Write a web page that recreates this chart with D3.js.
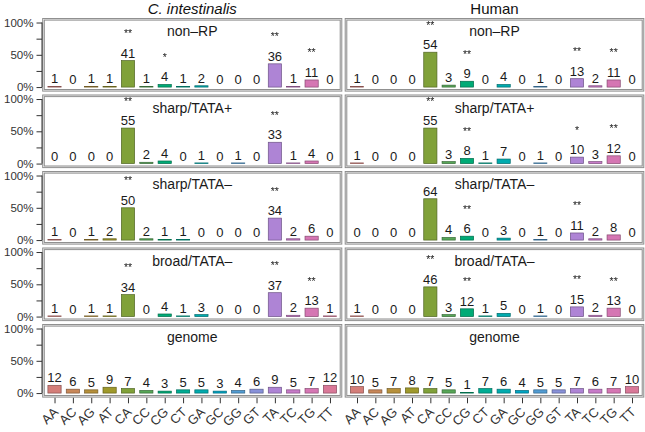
<!DOCTYPE html>
<html><head><meta charset="utf-8">
<script src="https://cdn.jsdelivr.net/npm/d3@7"></script>
<style>body{margin:0;background:#fff}svg{display:block}text{font-family:"Liberation Sans",Arial,Helvetica,sans-serif}.sigs{filter:grayscale(100%)}</style>
</head><body><svg id="c" width="645" height="432"></svg>
<script>
const dinucleotides = ["AA","AC","AG","AT","CA","CC","CG","CT","GA","GC","GG","GT","TA","TC","TG","TT"];
const species = ["C. intestinalis","Human"];
const groups = ["non–RP","sharp/TATA+","sharp/TATA–","broad/TATA–","genome"];
const yTicks = [0,25,50,75,100];
const yTickLabels = ["0%","","50%","","100%"];

// C. intestinalis (percent)
const ciNonRP   = [1,0,1,1,41,1,4,1,2,0,0,0,36,1,11,0];
const ciSharpTp = [0,0,0,0,55,2,4,0,1,0,1,0,33,1,4,0];
const ciSharpTm = [1,0,1,2,50,2,1,1,0,0,0,0,34,2,6,0];
const ciBroadTm = [1,0,1,1,34,0,4,1,3,0,0,0,37,2,13,1];
const ciGenome  = [12,6,5,9,7,4,3,5,5,3,4,6,9,5,7,12];
// Human (percent)
const hsNonRP   = [1,0,0,0,54,3,9,0,4,0,1,0,13,2,11,0];
const hsSharpTp = [1,0,0,0,55,3,8,1,7,0,1,0,10,3,12,0];
const hsSharpTm = [0,0,0,0,64,4,6,0,3,0,1,0,11,2,8,0];
const hsBroadTm = [1,0,0,0,46,3,12,1,5,0,1,0,15,2,13,0];
const hsGenome  = [10,5,7,8,7,5,1,7,6,4,5,5,7,6,7,10];
// significance marks
const ciNonRPSig   = ["","","","","**","","*","","","","","","**","","**",""];
const ciSharpTpSig = ["","","","","**","","","","","","","","**","","",""];
const ciSharpTmSig = ["","","","","**","","","","","","","","**","","",""];
const ciBroadTmSig = ["","","","","**","","","","","","","","**","","**",""];
const hsNonRPSig   = ["","","","","**","","**","","","","","","**","","**",""];
const hsSharpTpSig = ["","","","","**","","**","","","","","","*","","**",""];
const hsSharpTmSig = ["","","","","","","**","","","","","","**","","",""];
const hsBroadTmSig = ["","","","","**","","**","","","","","","**","","**",""];
const noSig = dinucleotides.map(()=>"");

const values = [
  [ciNonRP, ciSharpTp, ciSharpTm, ciBroadTm, ciGenome],
  [hsNonRP, hsSharpTp, hsSharpTm, hsBroadTm, hsGenome]
];
const sigs = [
  [ciNonRPSig, ciSharpTpSig, ciSharpTmSig, ciBroadTmSig, noSig],
  [hsNonRPSig, hsSharpTpSig, hsSharpTmSig, hsBroadTmSig, noSig]
];

// R-style hcl() (polar CIE-LUV) -> hex, as used by ggplot's hue palette
function polarLuv(h, c, l) {
  const hr = h * Math.PI / 180, u = c * Math.cos(hr), v = c * Math.sin(hr);
  const Xn = 95.047, Yn = 100, Zn = 108.883;
  const un = 4*Xn/(Xn+15*Yn+3*Zn), vn = 9*Yn/(Xn+15*Yn+3*Zn);
  const Y = l > 8 ? Yn*Math.pow((l+16)/116, 3) : Yn*l/903.3;
  const up = u/(13*l)+un, vp = v/(13*l)+vn;
  const X = Y*9*up/(4*vp), Z = Y*(12-3*up-20*vp)/(4*vp);
  const x = X/100, y = Y/100, z = Z/100;
  const lin = [3.2404542*x-1.5371385*y-0.4985314*z, -0.9692660*x+1.8760108*y+0.0415560*z, 0.0556434*x-0.2040259*y+1.0572252*z];
  const g = lin.map(t => { t = Math.max(0, Math.min(1, t)); return Math.round(255*(t <= 0.0031308 ? 12.92*t : 1.055*Math.pow(t,1/2.4)-0.055)); });
  return d3.rgb(g[0], g[1], g[2]).formatHex();
}

const svg = d3.select("#c");
const colX = [[43.5, 341], [346, 643]];
const rowStep = 76.5, firstBottom = 90.3, panelH = 71;
const color = d3.scaleOrdinal().domain(dinucleotides)
  .range(dinucleotides.map((d,i)=>polarLuv(15 + i*22.5, 62, 62)));

species.forEach((sp, si) => {
  const [x0, x1] = colX[si];
  const u = (x1 - x0) / 16.2;
  const x = d3.scalePoint().domain(dinucleotides).range([x0 + 0.6*u, x1 - 0.6*u]);
  const bw = 0.72 * u;
  svg.append("text").attr("x", (x0+x1)/2).attr("y", 14).attr("text-anchor","middle")
    .attr("font-size", 15).attr("fill","#111")
    .attr("font-style", si===0 ? "italic" : "normal").text(sp);

  groups.forEach((g, gi) => {
    const bottom = firstBottom + gi*rowStep, top = bottom - panelH;
    const y = d3.scaleLinear().domain([-5,105]).range([bottom, top]);
    const clipId = `clip${si}_${gi}`;
    svg.append("clipPath").attr("id", clipId).append("rect")
      .attr("x", x0).attr("y", top).attr("width", x1-x0).attr("height", panelH);
    const p = svg.append("g").attr("clip-path", `url(#${clipId})`);
    const vals = values[si][gi], sg = sigs[si][gi];
    p.selectAll("rect.bar").data(dinucleotides).join("rect").attr("class","bar")
      .attr("x", d => x(d) - bw/2).attr("width", bw)
      .attr("y", (d,i) => y(vals[i])).attr("height", (d,i) => y(0) - y(vals[i]))
      .attr("fill", d => color(d))
      .attr("stroke", d => d3.color(color(d)).darker(1.3))
      .attr("stroke-width", 0.7);
    p.selectAll("text.val").data(dinucleotides).join("text").attr("class","val")
      .attr("x", d => x(d)).attr("y", (d,i) => y(vals[i]) - 3)
      .attr("text-anchor","middle").attr("font-size", 13).attr("fill","#1a1a1a")
      .text((d,i) => vals[i]);
    p.append("text").attr("x", (x0+x1)/2).attr("y", top + 17).attr("text-anchor","middle")
      .attr("font-size", 14).attr("fill","#1a1a1a").text(g);
    // frame
    svg.append("rect").attr("x", x0).attr("y", top).attr("width", x1-x0).attr("height", panelH)
      .attr("fill","none").attr("stroke","#8c8c8c").attr("stroke-width", 2.6);
    svg.append("rect").attr("x", x0).attr("y", top).attr("width", x1-x0).attr("height", panelH)
      .attr("fill","none").attr("stroke","#e6e6e6").attr("stroke-width", 0.7);
    const sgG = svg.append("g").attr("class", "sigs").attr("clip-path", `url(#${clipId})`);
    sgG.selectAll("text.sig").data(dinucleotides).join("text").attr("class","sig")
      .attr("x", d => x(d)).attr("y", (d,i) => y(vals[i]) - 23.5)
      .attr("text-anchor","middle").attr("font-size", 10.5).attr("fill","#1a1a1a")
      .text((d,i) => sg[i]);

    if (si === 0) {
      const ax = svg.append("g").attr("transform", `translate(${x0-1.5},0)`)
        .call(d3.axisLeft(y).tickValues(yTicks).tickSize(5.5).tickPadding(3)
          .tickFormat((d,i) => yTickLabels[i]));
      ax.select(".domain").attr("d", `M0,${y(0)}V${y(100)}`).attr("stroke","#333");
      ax.selectAll(".tick line").attr("stroke","#333");
      ax.selectAll("text").attr("font-size", 11.5).attr("fill","#333")
        .attr("font-family", '"Liberation Sans",Arial,sans-serif');
    }
    if (gi === groups.length - 1) {
      const ax = svg.append("g").attr("transform", `translate(0,${bottom+1.5})`)
        .call(d3.axisBottom(x).tickSize(5.5).tickPadding(2));
      ax.select(".domain").remove();
      ax.selectAll(".tick line").attr("stroke","#333");
      ax.selectAll("text").attr("font-size", 13).attr("fill","#333")
        .attr("font-family", '"Liberation Sans",Arial,sans-serif')
        .attr("text-anchor","end").attr("dy", null).attr("y", 0)
        .attr("transform", "translate(4,15) rotate(-45)");
    }
  });
});
</script></body></html>
